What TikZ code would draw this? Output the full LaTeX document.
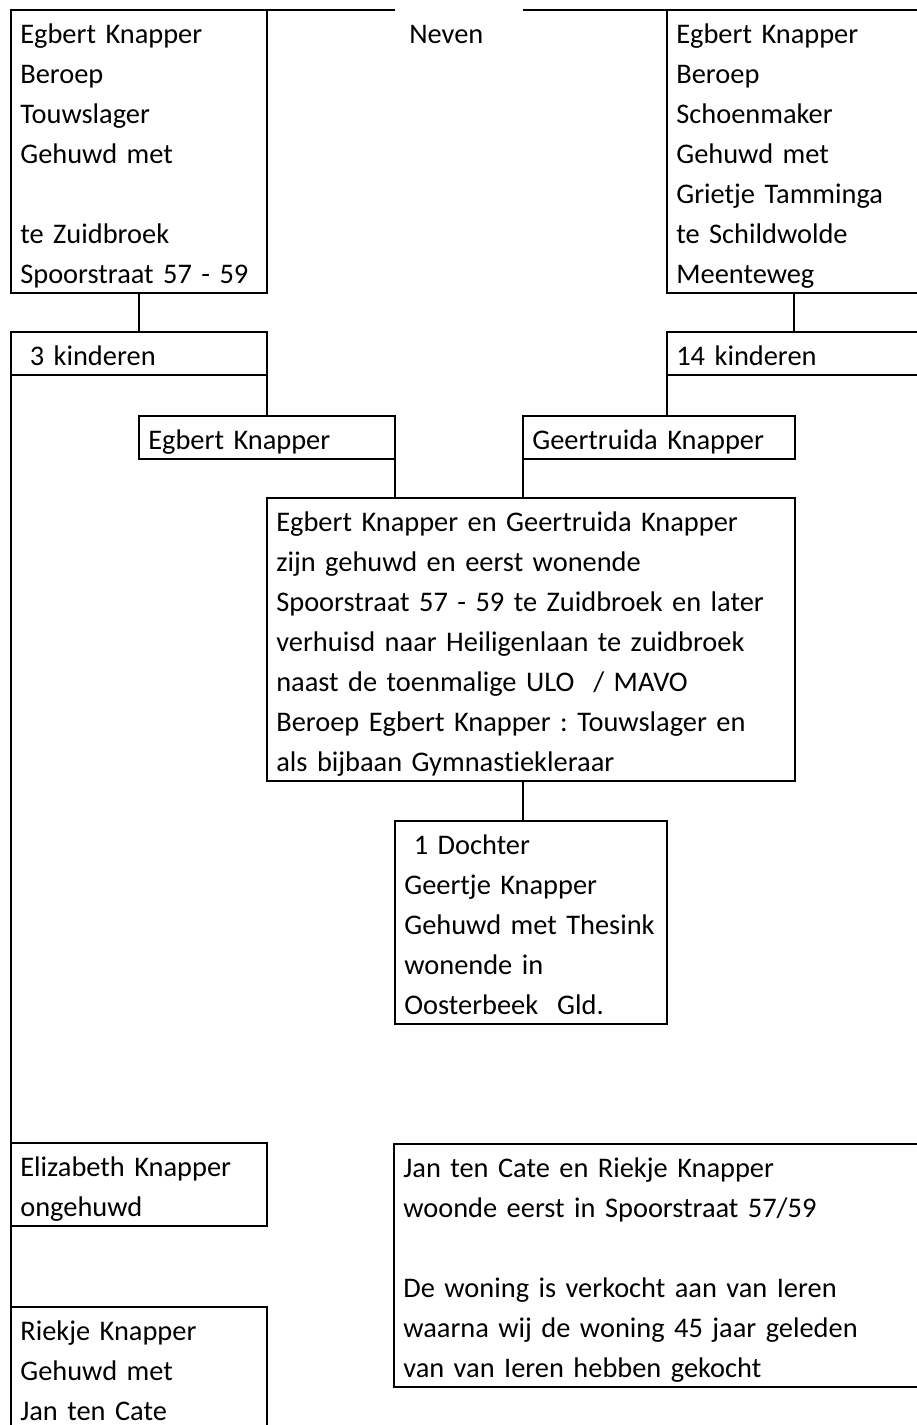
\documentclass[tikz,border=0pt]{standalone}
\usepackage{fontspec}
\setmainfont{Carlito}[Ligatures=CommonOff]
\newcommand{\kaderfont}{\fontsize{10.65}{15}\selectfont\frenchspacing}

\begin{document}
\begin{tikzpicture}[x=0.375pt, y=-0.375pt, line width=1pt,
		kader/.style={draw, anchor=north west, align=left, font=\kaderfont,
			inner xsep=3.5pt, inner ysep=0pt, outer sep=0pt, text height=12.4pt}]
	\useasboundingbox (0,0) rectangle (917,1425);
	\clip (0,0) rectangle (917,1425);

	% ouders
	\node [kader, text width=89pt, text depth=93.75pt] (lpar) at (11,10)
		{Egbert Knapper\\Beroep\\Touwslager\\Gehuwd met\\\mbox{}\\te Zuidbroek\\Spoorstraat 57 - 59};
	\node [kader, text width=88.25pt, text depth=93.75pt] (rpar) at (667,10)
		{Egbert Knapper\\Beroep\\Schoenmaker\\Gehuwd met\\Grietje Tamminga\\te Schildwolde\\Meenteweg};
	\node [anchor=base west, font=\kaderfont, inner sep=0pt] (neven) at (408,43) {Neven};

	% kinderen
	\node [kader, text width=89pt, text depth=3.75pt] (kid3) at (11,332) {\ 3 kinderen};
	\node [kader, text width=88.25pt, text depth=3.75pt] (kid14) at (667,332) {14 kinderen};
	\node [kader, text width=89pt, text depth=3.75pt] (egb) at (139,416) {Egbert Knapper};
	\node [kader, text width=95pt, text depth=3.75pt] (gee) at (523,416) {Geertruida Knapper};

	% huwelijk
	\node [kader, text width=191pt, text depth=93.75pt] (big) at (267,498)
		{Egbert Knapper en Geertruida Knapper\\zijn gehuwd en eerst wonende\\Spoorstraat 57 - 59 te Zuidbroek en later\\verhuisd naar Heiligenlaan te zuidbroek\\naast de toenmalige ULO\ \ / MAVO\\Beroep Egbert Knapper : Touwslager en\\als bijbaan Gymnastiekleraar};
	\node [kader, text width=95pt, text depth=63.75pt] (dau) at (395,821)
		{\ 1 Dochter\\Geertje Knapper\\Gehuwd met Thesink\\wonende in\\Oosterbeek\ \ Gld.};

	% zussen
	\node [kader, text width=89pt, text depth=18.75pt] (eli) at (11,1143) {Elizabeth Knapper\\ongehuwd};
	\node [kader, text width=89pt, text depth=33.75pt] (riek) at (11,1307) {Riekje Knapper\\Gehuwd met\\Jan ten Cate};
	\node [kader, text width=194pt, text depth=78.75pt] (jan) at (394,1144)
		{Jan ten Cate en Riekje Knapper\\woonde eerst in Spoorstraat 57/59\\\mbox{}\\De woning is verkocht aan van Ieren\\waarna wij de woning 45 jaar geleden\\van van Ieren hebben gekocht};

	% lijnen
	\draw (lpar.north east) -- (lpar.north east -| egb.east);
	\draw (rpar.north west) -- (rpar.north west -| gee.west);
	\draw (lpar.south) -- (kid3.north);
	\draw (rpar.south) -- (kid14.north);
	\draw (kid3.south east) -- (kid3.south east |- egb.north);
	\draw (kid14.south west) -- (kid14.south west |- gee.north);
	\draw (egb.south east) -- (egb.south east |- big.north);
	\draw (gee.south west) -- (gee.south west |- big.north);
	\draw (big.south -| gee.west) -- (dau.north -| gee.west);
	\draw (kid3.south west) -- (eli.north west);
	\draw (eli.south west) -- (riek.north west);
\end{tikzpicture}
\end{document}
